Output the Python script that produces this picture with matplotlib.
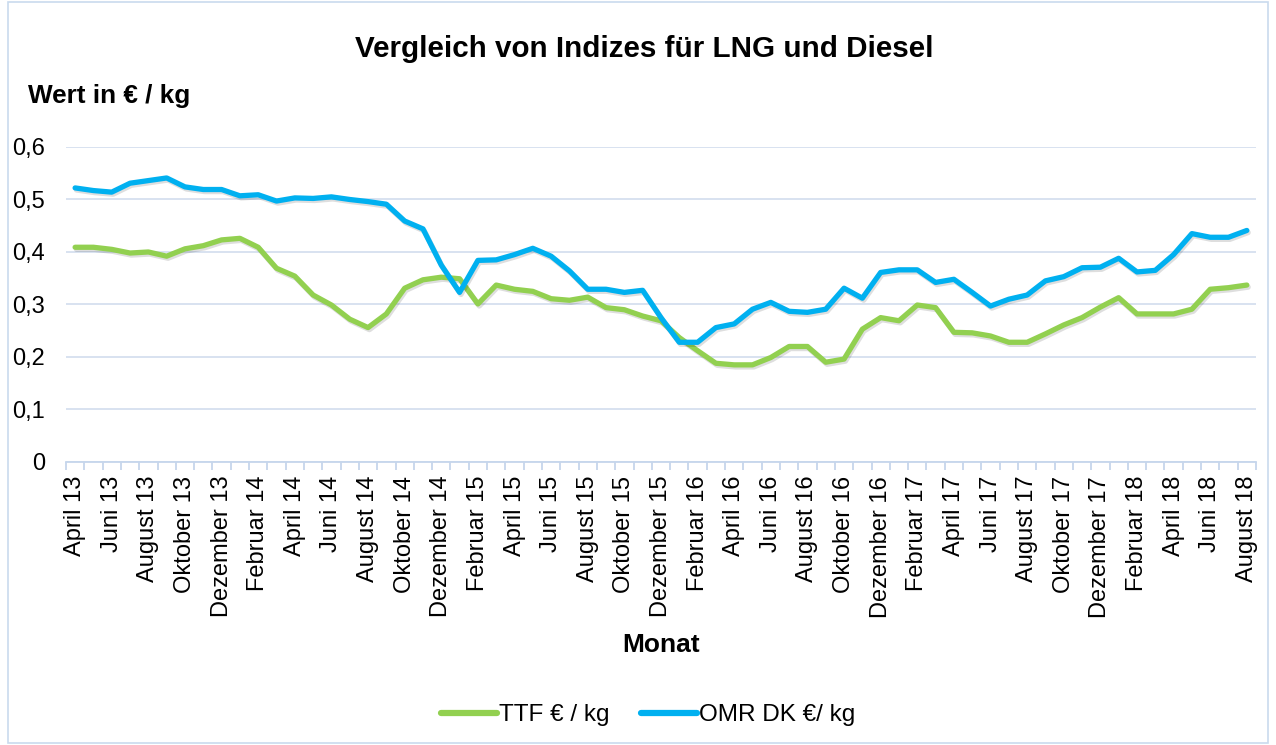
import matplotlib
matplotlib.use("Agg")
import matplotlib.pyplot as plt
import matplotlib.patheffects as pe
from matplotlib.patches import Rectangle
from matplotlib.lines import Line2D

plt.rcParams['font.family'] = ['Liberation Sans', 'DejaVu Sans']

# Monthly values April 2013 - August 2018
ttf = [0.409, 0.409, 0.405, 0.398, 0.400, 0.392, 0.406, 0.412, 0.423, 0.426,
       0.409, 0.369, 0.354, 0.318, 0.299, 0.272, 0.256, 0.282, 0.331, 0.347,
       0.352, 0.349, 0.301, 0.337, 0.329, 0.325, 0.311, 0.308, 0.314, 0.294,
       0.290, 0.278, 0.269, 0.237, 0.212, 0.188, 0.185, 0.185, 0.199, 0.220,
       0.220, 0.190, 0.196, 0.253, 0.275, 0.269, 0.299, 0.294, 0.247, 0.246,
       0.240, 0.228, 0.228, 0.244, 0.261, 0.275, 0.295, 0.313, 0.282, 0.282,
       0.282, 0.291, 0.329, 0.332, 0.337]

omr = [0.522, 0.517, 0.514, 0.531, 0.536, 0.541, 0.524, 0.519, 0.519, 0.507,
       0.509, 0.497, 0.503, 0.502, 0.505, 0.500, 0.496, 0.491, 0.459, 0.444,
       0.375, 0.323, 0.384, 0.385, 0.395, 0.407, 0.392, 0.364, 0.329, 0.329,
       0.323, 0.327, 0.275, 0.228, 0.228, 0.256, 0.263, 0.291, 0.304, 0.287,
       0.285, 0.291, 0.331, 0.312, 0.361, 0.366, 0.366, 0.342, 0.348, 0.323,
       0.297, 0.310, 0.318, 0.345, 0.353, 0.370, 0.371, 0.388, 0.362, 0.365,
       0.395, 0.435, 0.428, 0.428, 0.441]

# every second month is labelled
tick_labels = ["April 13", "Juni 13", "August 13", "Oktober 13", "Dezember 13",
               "Februar 14", "April 14", "Juni 14", "August 14", "Oktober 14",
               "Dezember 14", "Februar 15", "April 15", "Juni 15", "August 15",
               "Oktober 15", "Dezember 15", "Februar 16", "April 16", "Juni 16",
               "August 16", "Oktober 16", "Dezember 16", "Februar 17", "April 17",
               "Juni 17", "August 17", "Oktober 17", "Dezember 17", "Februar 18",
               "April 18", "Juni 18", "August 18"]

y_ticks = [0, 0.1, 0.2, 0.3, 0.4, 0.5, 0.6]
y_labels = ["0", "0,1", "0,2", "0,3", "0,4", "0,5", "0,6"]

green = "#92D050"
blue = "#00B0F0"
grid_col = "#D5DFEF"
axis_col = "#C6D6EC"

fig = plt.figure(figsize=(12.76, 7.45), dpi=100)
ax = fig.add_axes([0.0517, 0.3799, 0.9326, 0.4228])

x = list(range(len(ttf)))
shadow = [pe.SimpleLineShadow(offset=(1.0, -1.5), shadow_color="black", alpha=0.13),
          pe.Normal()]
ax.plot(x, ttf, color=green, lw=3.8, solid_capstyle="round",
        solid_joinstyle="round", path_effects=shadow, zorder=3)
ax.plot(x, omr, color=blue, lw=3.8, solid_capstyle="round",
        solid_joinstyle="round", path_effects=shadow, zorder=4)

ax.set_xlim(-0.5, len(ttf) - 0.5)
ax.set_ylim(0, 0.6)

ax.set_yticks(y_ticks)
ax.set_yticklabels(y_labels, fontsize=17)
ax.tick_params(axis="y", length=0, pad=15)
ax.yaxis.grid(True, color=grid_col, lw=1.3)
ax.set_axisbelow(True)

# labels under every second category, ticks on the category borders
ax.set_xticks(x[::2])
ax.set_xticklabels(tick_labels, rotation=90, fontsize=17)
ax.tick_params(axis="x", which="major", length=0, pad=10)
ax.set_xticks([i - 0.5 for i in range(len(ttf) + 1)], minor=True)
ax.tick_params(axis="x", which="minor", length=6, color=axis_col, width=1.3)

for s in ["left", "right", "top"]:
    ax.spines[s].set_visible(False)
ax.spines["bottom"].set_color(axis_col)
ax.spines["bottom"].set_linewidth(1.3)

fig.text(0.505, 0.934, "Vergleich von Indizes für LNG und Diesel",
         ha="center", va="center", fontsize=21.3, fontweight="bold")
fig.text(0.022, 0.871, "Wert in € / kg", ha="left", va="center",
         fontsize=18.8, fontweight="bold")
fig.text(0.518, 0.134, "Monat", ha="center", va="center",
         fontsize=19, fontweight="bold")

handles = [Line2D([], [], color=green, lw=4.5, solid_capstyle="round"),
           Line2D([], [], color=blue, lw=4.5, solid_capstyle="round")]
fig.legend(handles, ["TTF € / kg", "OMR DK €/ kg"], loc="center",
           bbox_to_anchor=(0.508, 0.040), ncol=2, frameon=False, fontsize=17.5,
           handlelength=2.3, handletextpad=0.1, columnspacing=1.3)

fig.patches.append(Rectangle((0.006, 0.003), 0.988, 0.994, transform=fig.transFigure,
                             fill=False, edgecolor="#C9DAEE", lw=1.2))

fig.savefig("out.png", dpi=100)
